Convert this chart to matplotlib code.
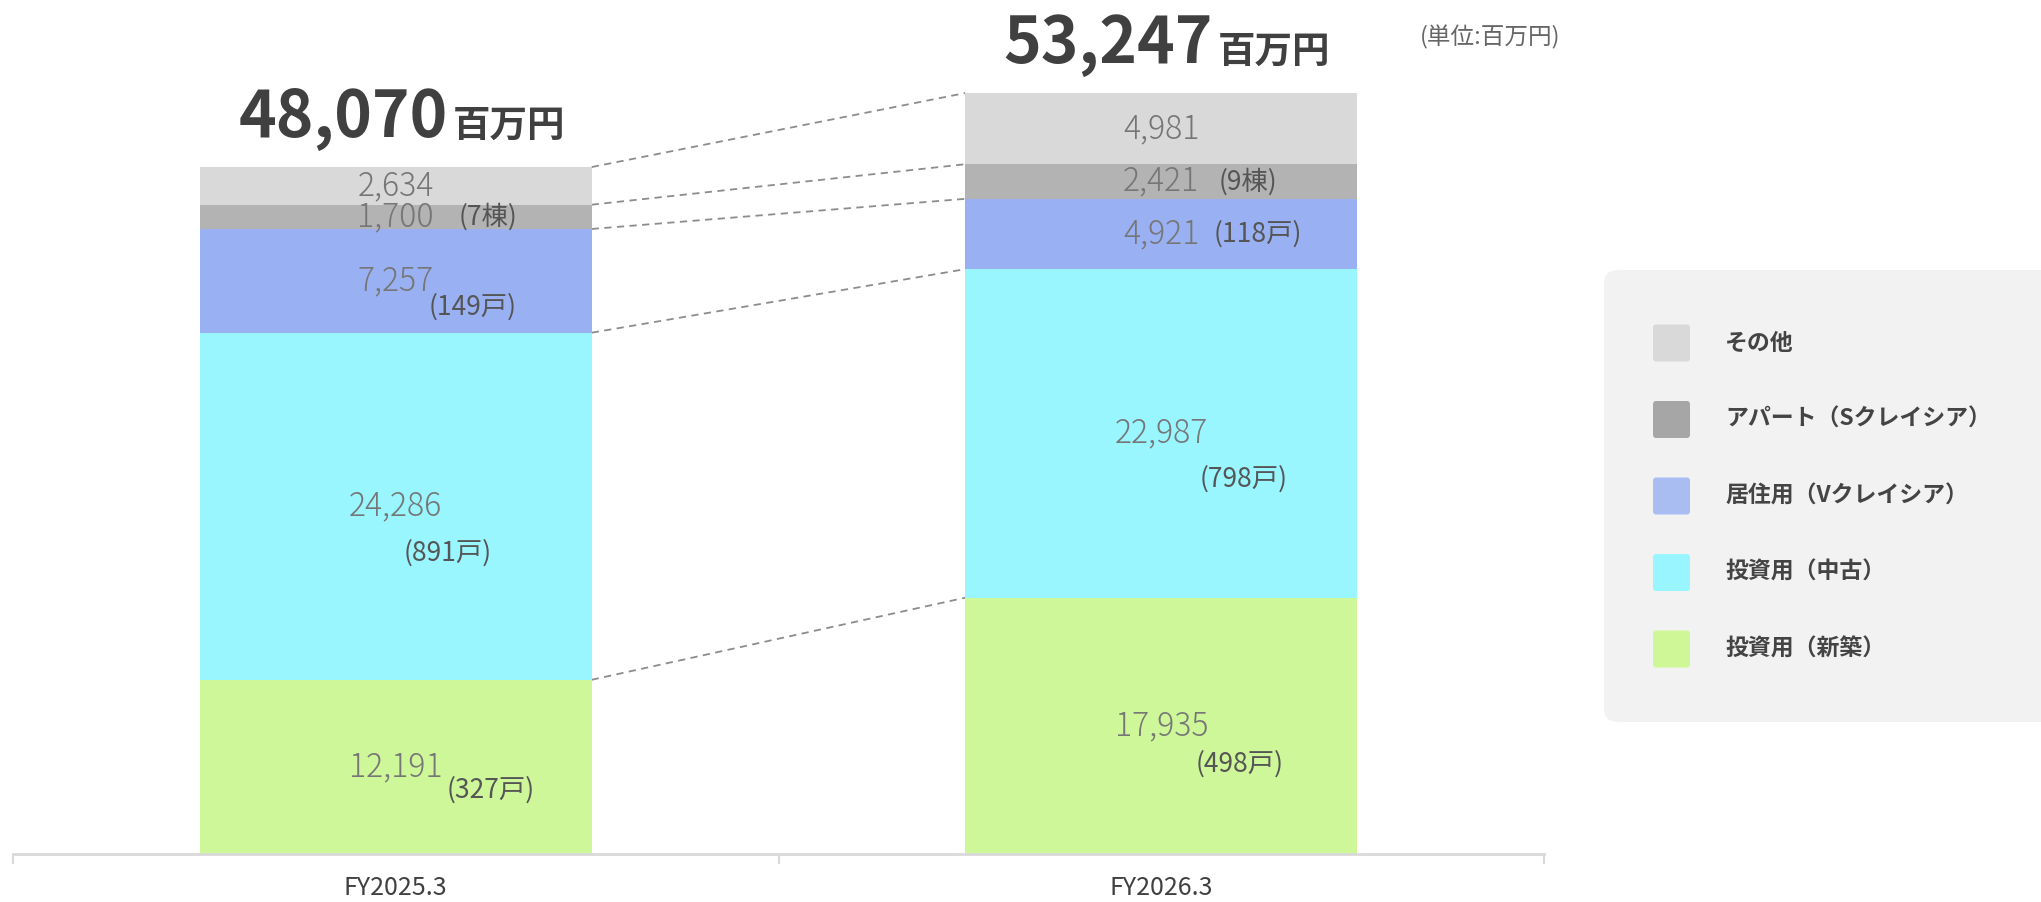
import matplotlib.pyplot as plt
from matplotlib.patches import FancyBboxPatch
import numpy as np

plt.rcParams['font.family'] = ['Noto Sans CJK JP', 'DejaVu Sans']

# データ（単位:百万円）
periods = ['FY2025.3', 'FY2026.3']
segments = ['投資用（新築）', '投資用（中古）', '居住用（Vクレイシア）', 'アパート（Sクレイシア）', 'その他']
values = np.array([
    [12191, 17935],
    [24286, 22987],
    [7257, 4921],
    [1700, 2421],
    [2634, 4981],
])
totals = [48070, 53247]
units = [
    ['(327戸)', '(498戸)'],
    ['(891戸)', '(798戸)'],
    ['(149戸)', '(118戸)'],
    ['(7棟)', '(9棟)'],
    ['', ''],
]
bar_colors = ['#cef799', '#99f6ff', '#99b1f2', '#b3b3b3', '#d9d9d9']
legend_colors = ['#cff797', '#99f5ff', '#a9bdf3', '#a6a6a6', '#d9d9d9']

# offsets (pixels) of the unit labels from the segment centre
unit_offsets = [
    [(95, -23), (78, -38)],
    [(52, -47), (82, -46)],
    [(77, -26), (97, 0)],
    [(92, 0), (87, 0)],
    [(0, 0), (0, 0)],
]

W, H = 2041, 902
fig = plt.figure(figsize=(W / 100, H / 100), dpi=100)
ax = fig.add_axes([13 / W, 48 / H, 1531 / W, 854 / H])

x = np.arange(len(periods))
bw = 0.512
bottoms = np.zeros(len(periods))
for k in range(len(segments)):
    ax.bar(x, values[k], bottom=bottoms, width=bw, color=bar_colors[k], edgecolor='none', zorder=2)
    mids = bottoms + values[k] / 2
    for i in range(len(periods)):
        ax.text(x[i], mids[i], f'{values[k][i]:,}', ha='center', va='center',
                fontsize=23, color='#767676', fontweight='light', zorder=3)
        if units[k][i]:
            dx, dy = unit_offsets[k][i]
            ax.annotate(units[k][i], xy=(x[i], mids[i]), xytext=(dx, dy),
                        textcoords='offset pixels', ha='center', va='center',
                        fontsize=19, color='#555555', zorder=3)
    bottoms = bottoms + values[k]

# dashed connectors between the segment tops
tops = np.cumsum(values, axis=0)
for k in range(len(segments)):
    ax.plot([x[0] + bw / 2, x[1] - bw / 2], [tops[k][0], tops[k][1]],
            color='#8c8c8c', lw=1.3, ls=(0, (4, 3)), zorder=1)

# totals above bars
for i in range(len(periods)):
    ax.annotate(f'{totals[i]:,}', xy=(x[i], totals[i]), xytext=(52, 30),
                textcoords='offset pixels', ha='right', va='baseline',
                fontsize=46, fontweight='bold', color='#404040')
    ax.annotate('百万円', xy=(x[i], totals[i]), xytext=(57, 30),
                textcoords='offset pixels', ha='left', va='baseline',
                fontsize=27, fontweight='bold', color='#404040')

ax.set_xlim(-0.5, 1.5)
ax.set_ylim(0, 854 * totals[0] / 687)
for s in ['top', 'left', 'right']:
    ax.spines[s].set_visible(False)
ax.spines['bottom'].set_color('#d9d9d9')
ax.spines['bottom'].set_linewidth(2)
ax.set_yticks([])
ax.set_xticks(x, periods)
ax.set_xticks([-0.5, 0.5, 1.5], minor=True)
ax.tick_params(axis='x', which='major', length=0, pad=15, labelsize=18, labelcolor='#404040')
ax.tick_params(axis='x', which='minor', length=7, width=1.5, color='#d9d9d9')

fig.text(1490 / W, 1 - 37 / H, '(単位:百万円)', ha='center', va='center', fontsize=17, color='#666666')

# legend panel
ov = fig.add_axes([0, 0, 1, 1])
ov.set_xlim(0, W)
ov.set_ylim(H, 0)
ov.axis('off')
ov.patch.set_alpha(0)
ov.add_patch(FancyBboxPatch((1604, 270), 450, 452, boxstyle='round,pad=0,rounding_size=14',
                            facecolor='#f2f2f2', edgecolor='none'))
for j, k in enumerate(range(len(segments) - 1, -1, -1)):
    yc = 343 + j * 76.5
    ov.add_patch(FancyBboxPatch((1653, yc - 18.5), 37, 37, boxstyle='round,pad=0,rounding_size=3',
                                facecolor=legend_colors[k], edgecolor='none'))
    ov.text(1725, yc, segments[k], ha='left', va='center', fontsize=16.5,
            fontweight='bold', color='#444444')

fig.savefig('out.png', dpi=100)
